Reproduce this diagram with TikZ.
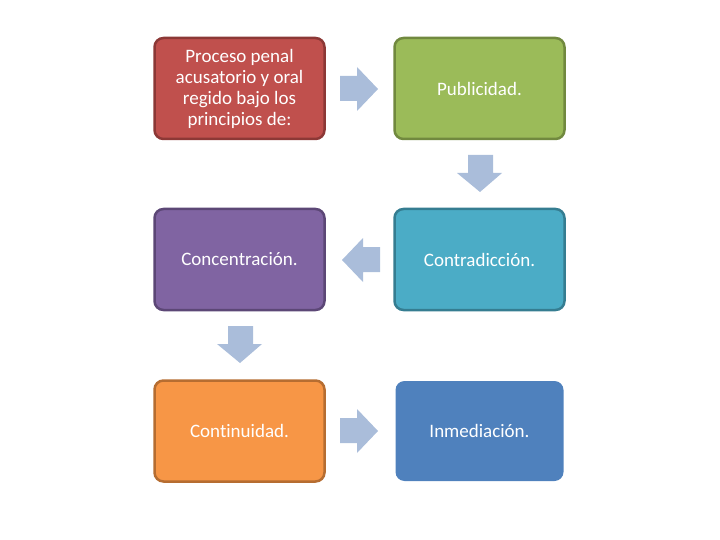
\documentclass[tikz,border=0pt]{standalone}
\usepackage{fontspec}
\setmainfont[Ligatures=NoCommon]{Carlito}
\definecolor{redF}{HTML}{C0504D}\definecolor{redB}{HTML}{8C3836}
\definecolor{grnF}{HTML}{9BBB59}\definecolor{grnB}{HTML}{71893F}
\definecolor{purF}{HTML}{8064A2}\definecolor{purB}{HTML}{5C4776}
\definecolor{teaF}{HTML}{4BACC6}\definecolor{teaB}{HTML}{357D91}
\definecolor{oraF}{HTML}{F79646}\definecolor{oraB}{HTML}{B66D31}
\definecolor{bluF}{HTML}{4F81BD}
\definecolor{arrF}{HTML}{AABDDA}
\tikzset{
  box/.style={rounded corners=9pt, line width=2.5pt, minimum width=170pt, minimum height=101pt,
    text=white, align=center, font=\fontsize{19}{21}\selectfont, inner sep=0pt},
  arr/.style={fill=arrF, draw=none},
}
\begin{document}
\begin{tikzpicture}[x=1pt,y=-1pt]
\useasboundingbox (0,0) rectangle (720,540);
\node[box, fill=redF, draw=redB] (b1) at (239.5,88.5) {Proceso penal\\acusatorio y oral\\regido bajo los\\principios de:};
\node[box, fill=grnF, draw=grnB] (b2) at (479.5,88.5) {Publicidad.};
\node[box, fill=purF, draw=purB] (b3) at (239.5,259.5) {Concentración.};
\node[box, fill=teaF, draw=teaB] (b4) at (479.5,259.5) {Contradicción.};
\node[box, fill=oraF, draw=oraB] (b5) at (239.5,431) {Continuidad.};
\node[box, fill=bluF, draw=none, minimum width=168pt, minimum height=100pt] (b6) at (479.5,431) {Inmediación.};
% block arrows
\fill[arr] (340,76) -- (357,76) -- (357,67) -- (378,89) -- (357,111) -- (357,101) -- (340,101) -- cycle;
\fill[arr] (468,155) -- (493,155) -- (493,173) -- (502,173) -- (480,192) -- (457,173) -- (468,173) -- cycle;
\fill[arr] (380,247) -- (363,247) -- (363,238) -- (342,260) -- (363,282) -- (363,272) -- (380,272) -- cycle;
\fill[arr] (228,326) -- (253,326) -- (253,344) -- (262,344) -- (240,363) -- (217,344) -- (228,344) -- cycle;
\fill[arr] (340,418) -- (357,418) -- (357,409) -- (378,431) -- (357,453) -- (357,443) -- (340,443) -- cycle;
\end{tikzpicture}
\end{document}
